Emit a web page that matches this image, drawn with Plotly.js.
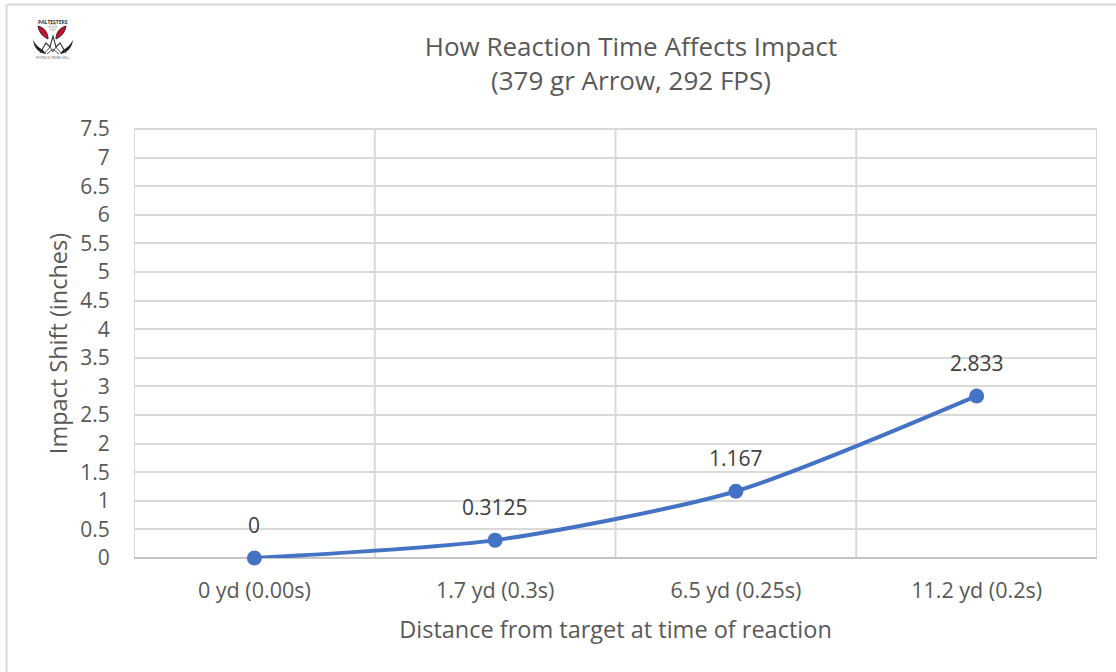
<!DOCTYPE html>
<html>
<head>
<meta charset="utf-8">
<script src="https://cdn.plot.ly/plotly-3.0.1.min.js"></script>
<style>html,body{margin:0;padding:0;background:#fff}#chart{width:1116px;height:672px}</style>
</head>
<body>
<div id="chart"></div>
<script>
const categories = ["0 yd (0.00s)", "1.7 yd (0.3s)", "6.5 yd (0.25s)", "11.2 yd (0.2s)"];
const impactShift = [0, 0.3125, 1.167, 2.833];
const pointLabels = ["0", "0.3125", "1.167", "2.833"];
const yTickValues = [0,0.5,1,1.5,2,2.5,3,3.5,4,4.5,5,5.5,6,6.5,7,7.5];
const yTickLabels = ["0","0.5","1","1.5","2","2.5","3","3.5","4","4.5","5","5.5","6","6.5","7","7.5"];
const chartTitle = "How Reaction Time Affects Impact<br>(379 gr Arrow, 292 FPS)";
const xTitle = "Distance from target at time of reaction";
const yTitle = "Impact Shift (inches)";
const logoText = "PALTESTERS";
const logoSubText = "PHYSICS FROM HELL";

const FONT = '"Open Sans", "Noto Sans", sans-serif';
const W = 1116, H = 672;
const L = 134, R = 1097, T = 129, B = 558;
const px = x => (x - L) / (R - L);
const py = y => (B - y) / (B - T);

// Logo artwork, in a 44x48 box placed at page position (33,16)
const logoSvg = `<svg xmlns="http://www.w3.org/2000/svg" viewBox="0 0 44 48" width="44" height="48">
<path d="M5 10 C6 16 9 20 15 23 C15 17 12 12 5 10Z" fill="#c8102e" stroke="#222" stroke-width="0.9"/>
<path d="M33 10 C32 16 29 20 23 23 C23 17 26 12 33 10Z" fill="#c8102e" stroke="#222" stroke-width="0.9"/>
<path d="M0 24 C1 32 6 37 13 38 L10 34 C6 32 3 29 0 24Z" fill="#222"/>
<path d="M40 24 C39 32 34 37 27 38 L30 34 C34 32 37 29 40 24Z" fill="#222"/>
<path d="M7 37 L13 27 L17 31 L20 20 L23 31 L27 27 L33 37" fill="none" stroke="#333" stroke-width="1.1"/>
<path d="M11 38 L17 31 L20 36 L23 31 L29 38 M14 38 L20 33 L26 38" fill="none" stroke="#444" stroke-width="0.9"/>
<circle cx="20" cy="11" r="3.4" fill="none" stroke="#aaa" stroke-width="0.7"/>
<path d="M20 7 V15 M16 11 H24" stroke="#aaa" stroke-width="0.6"/>
</svg>`;

const trace = {
  type: "scatter",
  mode: "lines+markers",
  x: categories,
  y: impactShift,
  line: {color: "#4472C4", width: 4, shape: "spline", smoothing: 0.7},
  marker: {color: "#4472C4", size: 15},
  cliponaxis: false,
  hoverinfo: "skip"
};

const pointAnnotations = categories.map((c, i) => ({
  x: c, y: impactShift[i], xref: "x", yref: "y",
  text: pointLabels[i], showarrow: false,
  xanchor: "center", yanchor: "middle", yshift: 33,
  font: {family: FONT, size: 21, color: "#404040"}
}));

const layout = {
  width: W, height: H,
  paper_bgcolor: "#fff", plot_bgcolor: "#fff",
  showlegend: false,
  margin: {l: L, r: W - R, t: T, b: H - B, pad: 0},
  font: {family: FONT, color: "#595959"},
  title: {
    text: chartTitle,
    font: {family: FONT, size: 26, color: "#595959"},
    x: 631 / W, xanchor: "center", xref: "container", y: 1 - 56 / H, yanchor: "middle"
  },
  xaxis: {
    type: "category",
    range: [-0.5, 3.5],
    tickmode: "array", tickvals: categories, ticktext: categories,
    tickfont: {family: FONT, size: 21.5, color: "#595959"},
    ticks: "outside", ticklen: 13, tickcolor: "rgba(0,0,0,0)",
    showgrid: false,
    showline: false,
    zeroline: false,
    title: {text: xTitle, font: {family: FONT, size: 23.5, color: "#595959"}, standoff: 18},
    automargin: false
  },
  yaxis: {
    range: [0, 7.5],
    tickmode: "array", tickvals: yTickValues, ticktext: yTickLabels,
    tickfont: {family: FONT, size: 21, color: "#595959"},
    ticks: "outside", ticklen: 19, tickcolor: "rgba(0,0,0,0)",
    showgrid: true, gridcolor: "#d9d9d9", gridwidth: 2,
    showline: false, zeroline: false,
    title: {text: yTitle, font: {family: FONT, size: 23.5, color: "#595959"}, standoff: 6},
    automargin: false
  },
  shapes: [
    ...[-0.5, 0.5, 1.5, 2.5, 3.5].map(v => ({
      type: "line", layer: "below", xref: "x", yref: "paper",
      x0: v, x1: v, y0: 0, y1: 1, line: {color: "#d9d9d9", width: 2}
    })),
    {type: "line", layer: "below", xref: "paper", yref: "paper", x0: 0, x1: 1, y0: 1, y1: 1,
     line: {color: "#d9d9d9", width: 2}},
    {type: "line", layer: "below", xref: "paper", yref: "paper", x0: 0, x1: 1, y0: 0, y1: 0,
     line: {color: "#c4c4c4", width: 2}},
    {type: "line", xref: "paper", yref: "paper", x0: px(6.5), x1: px(6.5),
     y0: py(672), y1: py(4.5), line: {color: "#d9d9d9", width: 2}},
    {type: "line", xref: "paper", yref: "paper", x0: px(6.5), x1: px(1116),
     y0: py(4.5), y1: py(4.5), line: {color: "#d9d9d9", width: 2}}
  ],
  images: [{
    source: "data:image/svg+xml;utf8," + encodeURIComponent(logoSvg),
    xref: "paper", yref: "paper",
    x: px(33), y: py(16),
    sizex: 44 / (R - L), sizey: 48 / (B - T),
    xanchor: "left", yanchor: "top", layer: "above"
  }],
  annotations: [
    ...pointAnnotations,
    {text: "<b>" + logoText + "</b>", xref: "paper", yref: "paper", x: px(53), y: py(22),
     xanchor: "center", yanchor: "middle", showarrow: false,
     font: {family: FONT, size: 5, color: "#333"}},
    {text: logoSubText, xref: "paper", yref: "paper", x: px(53), y: py(58),
     xanchor: "center", yanchor: "middle", showarrow: false,
     font: {family: FONT, size: 3.5, color: "#555"}}
  ]
};

Plotly.newPlot("chart", [trace], layout, {displayModeBar: false, staticPlot: true});
</script>
</body>
</html>
